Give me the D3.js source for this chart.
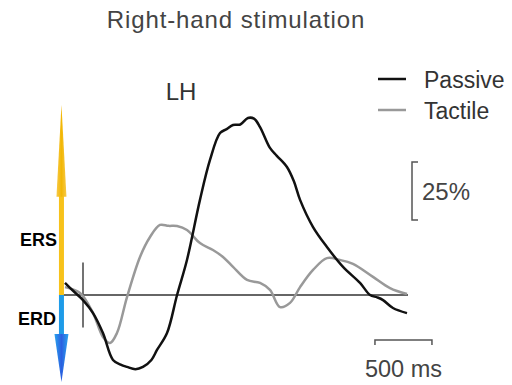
<!DOCTYPE html>
<html>
<head>
<meta charset="utf-8">
<script src="https://cdn.jsdelivr.net/npm/d3@7"></script>
<style>
  body { margin: 0; background: #fff; }
  svg { display: block; }
</style>
</head>
<body>
<svg id="chart" width="512" height="385"></svg>
<script>
// time in ms (0 = stimulus onset), power change in %
var passiveTime = [-158, -80, 0, 88, 175, 263, 330, 386, 460, 526, 600, 649, 737, 825, 912, 1026, 1114, 1202, 1260, 1316, 1380, 1447, 1500, 1553, 1640, 1700, 1789, 1850, 1904, 2018, 2140, 2281, 2430, 2518, 2580, 2632, 2719, 2842];
var passiveValue = [5.2, 1.5, -2.2, -7.8, -16.4, -28, -30, -31, -32, -31, -28, -23.7, -16.4, 0, 15.1, 41, 58.2, 69.8, 71.5, 73.3, 73.5, 76.3, 76, 72.4, 63.4, 60, 55.2, 49, 41, 29.3, 20.7, 12.1, 5.2, 0, -1, -2.2, -5.6, -7.8];

var tactileTime = [-158, -26, 88, 175, 237, 298, 386, 500, 588, 675, 750, 825, 912, 1026, 1140, 1228, 1316, 1439, 1553, 1640, 1728, 1816, 1904, 2018, 2140, 2254, 2368, 2544, 2693, 2842];
var tactileValue = [3.4, 0.9, -7.8, -18.1, -20.7, -16.4, -0.9, 16.4, 25, 30.2, 29.8, 29.7, 28, 22.4, 19.4, 16.4, 12.1, 6.5, 5.2, 2.2, -5.2, -3.4, 3.4, 10.8, 15.9, 15.1, 13.4, 7.8, 3, 0.4];

var seriesNames = ["Passive", "Tactile"];
var seriesColors = ["#111111", "#999999"];

var baselineRange = [-202, 2851];
var onsetTickRange = [-14, 14];
var ampBar = { time: 2886, from: 32.3, to: 57.3, label: "25%" };
var timeBar = { from: 2561, to: 3061, value: -19.4, label: "500 ms" };
var ersRange = [0, 82];
var erdRange = [0, -37.5];
var arrowTime = -189;

var font = "Liberation Sans, Arial, sans-serif";
var svg = d3.select("#chart");

// scales: 500 ms = 57 px, 25 % = 58 px
var x = d3.scaleLinear().domain([0, 500]).range([83, 140]);
var y = d3.scaleLinear().domain([0, 25]).range([295, 237]);

var line = d3.line()
  .x(function(d) { return x(d[0]); })
  .y(function(d) { return y(d[1]); })
  .curve(d3.curveCatmullRom.alpha(0.5));

//title
svg.append("text")
  .attr("x", 236).attr("y", 28)
  .attr("text-anchor", "middle")
  .attr("font-family", font)
  .attr("font-size", 24)
  .attr("letter-spacing", 0.9)
  .attr("fill", "#444")
  .text("Right-hand stimulation");

svg.append("text")
  .attr("x", 181).attr("y", 100)
  .attr("text-anchor", "middle")
  .attr("font-family", font)
  .attr("font-size", 24)
  .attr("fill", "#333")
  .text("LH");

//baseline + onset tick
svg.append("line")
  .attr("x1", x(baselineRange[0])).attr("x2", x(baselineRange[1]))
  .attr("y1", y(0)).attr("y2", y(0))
  .attr("stroke", "#333").attr("stroke-width", 1.3);

svg.append("line")
  .attr("x1", x(0)).attr("x2", x(0))
  .attr("y1", y(onsetTickRange[0])).attr("y2", y(onsetTickRange[1]))
  .attr("stroke", "#444").attr("stroke-width", 1.5);

//curves
var series = [
  d3.zip(tactileTime, tactileValue),
  d3.zip(passiveTime, passiveValue)
];
var colorsDrawn = [seriesColors[1], seriesColors[0]];
series.forEach(function(s, i) {
  svg.append("path")
    .datum(s)
    .attr("d", line)
    .attr("fill", "none")
    .attr("stroke", colorsDrawn[i])
    .attr("stroke-width", 2.5)
    .attr("stroke-linejoin", "round");
});

//legend
seriesNames.forEach(function(name, i) {
  var ly = 79 + i * 31;
  svg.append("line")
    .attr("x1", 378).attr("x2", 406)
    .attr("y1", ly).attr("y2", ly)
    .attr("stroke", seriesColors[i]).attr("stroke-width", 2.5);
  svg.append("text")
    .attr("x", 424).attr("y", ly + 9)
    .attr("font-family", font)
    .attr("font-size", 23)
    .attr("fill", "#333")
    .text(name);
});

//amplitude scale bar
var ax = x(ampBar.time);
svg.append("path")
  .attr("d", "M" + (ax + 6) + "," + y(ampBar.to) + "H" + ax + "V" + y(ampBar.from) + "H" + (ax + 6))
  .attr("fill", "none").attr("stroke", "#555").attr("stroke-width", 1.5);
svg.append("text")
  .attr("x", ax + 10).attr("y", 200)
  .attr("font-family", font)
  .attr("font-size", 24)
  .attr("fill", "#444")
  .text(ampBar.label);

//time scale bar
var ty = y(timeBar.value);
svg.append("path")
  .attr("d", "M" + x(timeBar.from) + "," + (ty + 5) + "V" + ty + "H" + x(timeBar.to) + "V" + (ty + 5))
  .attr("fill", "none").attr("stroke", "#555").attr("stroke-width", 1.5);
svg.append("text")
  .attr("x", (x(timeBar.from) + x(timeBar.to)) / 2).attr("y", 377)
  .attr("text-anchor", "middle")
  .attr("font-family", font)
  .attr("font-size", 23.5)
  .attr("fill", "#444")
  .text(timeBar.label);

//ERS / ERD arrows
var defs = svg.append("defs");
var gy = defs.append("linearGradient").attr("id", "gy").attr("x1", 0).attr("x2", 1);
gy.append("stop").attr("offset", 0).attr("stop-color", "#f7c948");
gy.append("stop").attr("offset", 0.5).attr("stop-color", "#f2b705");
gy.append("stop").attr("offset", 1).attr("stop-color", "#f7c948");
var gb = defs.append("linearGradient").attr("id", "gb").attr("x1", 0).attr("x2", 1);
gb.append("stop").attr("offset", 0).attr("stop-color", "#2aa3ee");
gb.append("stop").attr("offset", 0.5).attr("stop-color", "#2b5fe0");
gb.append("stop").attr("offset", 1).attr("stop-color", "#2aa3ee");

var axp = x(arrowTime);
var y0 = y(0);
var yTop = y(ersRange[1]);
var yBot = y(erdRange[1]);

svg.append("rect")
  .attr("x", axp - 2.5).attr("y", yTop + 80).attr("width", 5).attr("height", y0 - yTop - 80)
  .attr("fill", "#f7c21a");
svg.append("path")
  .attr("d", "M" + axp + "," + yTop + "L" + (axp + 5) + "," + (yTop + 92) + "L" + (axp - 5) + "," + (yTop + 92) + "Z")
  .attr("fill", "url(#gy)");

svg.append("rect")
  .attr("x", axp - 2.5).attr("y", y0).attr("width", 5).attr("height", yBot - y0 - 40)
  .attr("fill", "#1e9be8");
svg.append("path")
  .attr("d", "M" + axp + "," + yBot + "L" + (axp + 7) + "," + (yBot - 48) + "L" + (axp - 7) + "," + (yBot - 48) + "Z")
  .attr("fill", "url(#gb)");

svg.append("text")
  .attr("x", 57).attr("y", 246)
  .attr("text-anchor", "end")
  .attr("font-family", font)
  .attr("font-weight", "bold")
  .attr("font-size", 18)
  .attr("fill", "#000")
  .text("ERS");
svg.append("text")
  .attr("x", 56).attr("y", 325)
  .attr("text-anchor", "end")
  .attr("font-family", font)
  .attr("font-weight", "bold")
  .attr("font-size", 18)
  .attr("fill", "#000")
  .text("ERD");
</script>
</body>
</html>
